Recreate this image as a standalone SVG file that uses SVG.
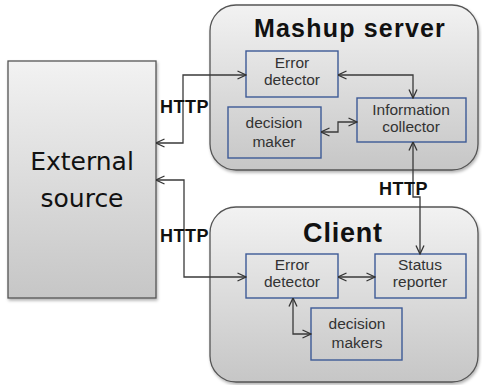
<svg xmlns="http://www.w3.org/2000/svg" width="482" height="385" viewBox="0 0 482 385">
  <defs>
    <linearGradient id="panel" x1="0" y1="0" x2="0" y2="1">
      <stop offset="0" stop-color="#f2f2f2"/>
      <stop offset="1" stop-color="#c6c6c6"/>
    </linearGradient>
    <filter id="shadow" x="-10%" y="-10%" width="120%" height="120%">
      <feDropShadow dx="1" dy="2" stdDeviation="1.5" flood-color="#000" flood-opacity="0.3"/>
    </filter>
    <marker id="arrow" viewBox="0 0 10 10" refX="9.5" refY="5" markerWidth="10" markerHeight="10" markerUnits="userSpaceOnUse" orient="auto-start-reverse">
      <path d="M1,1 L9.5,5 L1,9" fill="none" stroke="#333" stroke-width="1.3"/>
    </marker>
  </defs>
  <style>
    .panel { fill: url(#panel); stroke: #555; stroke-width: 1.3; filter: url(#shadow); }
    .box { fill: none; stroke: #3d5a96; stroke-width: 1.4; }
    .lbl { font-family: "Liberation Sans", Arial, sans-serif; font-size: 15.5px; fill: #333; text-anchor: middle; }
    .title { font-family: "Liberation Sans", Arial, sans-serif; font-weight: bold; fill: #111; text-anchor: middle; }
    .http { font-family: "Liberation Sans", Arial, sans-serif; font-weight: bold; font-size: 18px; letter-spacing: 0.5px; fill: #111; }
    .ext { font-family: "DejaVu Sans", sans-serif; font-size: 25px; fill: #111; text-anchor: middle; }
    .wire { fill: none; stroke: #3a3a3a; stroke-width: 1.3; marker-start: url(#arrow); marker-end: url(#arrow); }
  </style>

  <!-- external data source -->
  <g id="external-source">
    <rect class="panel" x="8" y="61" width="148" height="237"/>
    <text class="ext" x="82" y="170">External</text>
    <text class="ext" x="82" y="207">source</text>
  </g>

  <!-- mashup server container -->
  <g id="mashup-server">
    <rect class="panel" x="210" y="5" width="268" height="165" rx="26" ry="26"/>
    <text class="title" x="350" y="37" font-size="25" letter-spacing="1.2">Mashup server</text>
  </g>
  <g id="server-error-detector">
    <rect class="box" x="246" y="51" width="92" height="46"/>
    <text class="lbl" x="292" y="68">Error</text>
    <text class="lbl" x="292" y="85">detector</text>
  </g>
  <g id="server-decision-maker">
    <rect class="box" x="228" y="107" width="93" height="51"/>
    <text class="lbl" x="274" y="128">decision</text>
    <text class="lbl" x="274" y="147">maker</text>
  </g>
  <g id="information-collector">
    <rect class="box" x="357" y="98" width="109" height="44"/>
    <text class="lbl" x="411" y="115">Information</text>
    <text class="lbl" x="411" y="132">collector</text>
  </g>

  <!-- client container -->
  <g id="client">
    <rect class="panel" x="210" y="207" width="268" height="175" rx="26" ry="26"/>
    <text class="title" x="343" y="242" font-size="27" letter-spacing="0.8">Client</text>
  </g>
  <g id="client-error-detector">
    <rect class="box" x="246" y="254" width="92" height="44"/>
    <text class="lbl" x="292" y="270">Error</text>
    <text class="lbl" x="292" y="287">detector</text>
  </g>
  <g id="status-reporter">
    <rect class="box" x="375" y="254" width="91" height="44"/>
    <text class="lbl" x="420" y="270">Status</text>
    <text class="lbl" x="420" y="287">reporter</text>
  </g>
  <g id="decision-makers">
    <rect class="box" x="311" y="308" width="91" height="52"/>
    <text class="lbl" x="357" y="329">decision</text>
    <text class="lbl" x="357" y="348">makers</text>
  </g>

  <!-- connectors -->
  <g id="connectors">
    <path class="wire" d="M156,143 H183 V75 H246"/>
    <path class="wire" d="M156,180 H184 V277 H246"/>
    <path class="wire" d="M338,75 H413 V98"/>
    <path class="wire" d="M321,132 H338 V122 H357"/>
    <path class="wire" d="M413,142 V197 H420 V254"/>
    <path class="wire" d="M338,277 H375"/>
    <path class="wire" d="M293,298 V334 H311"/>
    <text class="http" x="160" y="113">HTTP</text>
    <text class="http" x="160" y="242">HTTP</text>
    <text class="http" x="379" y="195">HTTP</text>
  </g>
</svg>
